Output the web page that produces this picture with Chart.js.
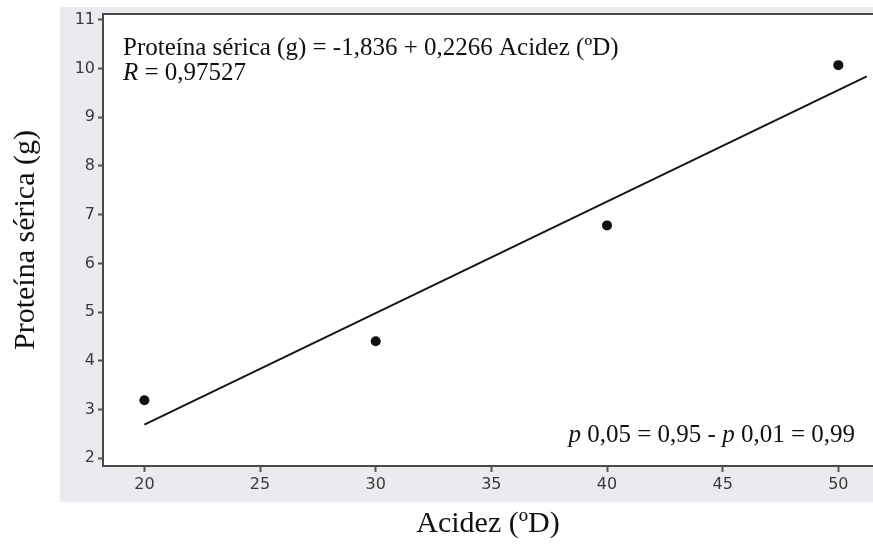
<!DOCTYPE html>
<html>
<head>
<meta charset="utf-8">
<script src="https://cdn.jsdelivr.net/npm/chart.js@4"></script>
<style>
  html, body { margin: 0; padding: 0; background: #ffffff; }
  canvas { display: block; }
</style>
</head>
<body>
<canvas id="c" width="873" height="545"></canvas>
<script>
// ---- data ----
const acidez   = [20, 30, 40, 50];
const proteina = [3.19, 4.40, 6.78, 10.07];
const fitX     = [20, 51.23];
const fitY     = [2.69, 9.84];
const xTicks   = [20, 25, 30, 35, 40, 45, 50];
const yTicks   = [2, 3, 4, 5, 6, 7, 8, 9, 10, 11];
const xTitle   = 'Acidez (ºD)';
const yTitle   = 'Proteína sérica (g)';
const eqLine   = 'Proteína sérica (g) = -1,836 + 0,2266 Acidez (ºD)';
const rLabel   = ['R', ' = 0,97527'];
const pLabel   = [['p', true], [' 0,05 = 0,95 - ', false], ['p', true], [' 0,01 = 0,99', false]];

const serif = '"Liberation Serif", "Times New Roman", serif';
const sans  = '"DejaVu Sans", Tahoma, sans-serif';

const panelPlugin = {
  id: 'panel',
  beforeDraw(chart) {
    const { ctx, chartArea: a } = chart;
    ctx.save();
    ctx.fillStyle = '#eaebee';
    ctx.fillRect(60, 7, chart.width - 60, 495);
    ctx.fillStyle = '#ffffff';
    ctx.fillRect(a.left, a.top, a.right - a.left, a.bottom - a.top);
    ctx.restore();
  },
  afterDraw(chart) {
    const { ctx, chartArea: a } = chart;
    ctx.save();
    // top frame line
    ctx.strokeStyle = '#4a4a4a';
    ctx.lineWidth = 2;
    ctx.beginPath();
    ctx.moveTo(a.left, a.top);
    ctx.lineTo(a.right, a.top);
    ctx.stroke();
    // annotation text
    ctx.fillStyle = '#111111';
    ctx.textBaseline = 'alphabetic';
    ctx.textAlign = 'left';
    ctx.font = '25px ' + serif;
    ctx.fillText(eqLine, 123, 55);
    let x = 123;
    ctx.font = 'italic 25px ' + serif;
    ctx.fillText(rLabel[0], x, 80);
    x += ctx.measureText(rLabel[0]).width;
    ctx.font = '25px ' + serif;
    ctx.fillText(rLabel[1], x, 80);
    // bottom-right p text, right aligned at 855
    let total = 0;
    pLabel.forEach(([t, it]) => {
      ctx.font = (it ? 'italic ' : '') + '25px ' + serif;
      total += ctx.measureText(t).width;
    });
    x = 855 - total;
    pLabel.forEach(([t, it]) => {
      ctx.font = (it ? 'italic ' : '') + '25px ' + serif;
      ctx.fillText(t, x, 442);
      x += ctx.measureText(t).width;
    });
    ctx.restore();
  }
};

new Chart(document.getElementById('c'), {
  type: 'scatter',
  data: {
    datasets: [
      {
        label: 'fit',
        data: fitX.map((v, i) => ({ x: v, y: fitY[i] })),
        showLine: true,
        borderColor: '#151515',
        borderWidth: 2,
        pointRadius: 0,
        fill: false
      },
      {
        label: 'data',
        data: acidez.map((v, i) => ({ x: v, y: proteina[i] })),
        showLine: false,
        pointRadius: 5,
        pointBackgroundColor: '#111111',
        pointBorderColor: '#111111',
        pointBorderWidth: 0
      }
    ]
  },
  options: {
    responsive: false,
    animation: false,
    layout: { autoPadding: false, padding: { top: 14, left: 0, right: 0, bottom: 0 } },
    plugins: {
      legend: { display: false },
      tooltip: { enabled: false }
    },
    scales: {
      x: {
        type: 'linear',
        min: 18.21,
        max: 51.5,
        afterBuildTicks(s) { s.ticks = xTicks.map(v => ({ value: v })); },
        afterFit(s) { s.height = 79; s.paddingRight = 0; },
        grid: { drawOnChartArea: false, drawTicks: true, tickLength: 6, tickColor: '#555555', tickWidth: 2 },
        border: { display: true, color: '#4a4a4a', width: 2 },
        ticks: { color: '#3a3a3a', font: { family: sans, size: 16 }, padding: 3, maxRotation: 0 },
        title: { display: true, text: xTitle, color: '#111111', font: { family: serif, size: 30 }, padding: { top: 0, bottom: 3 } }
      },
      y: {
        type: 'linear',
        min: 1.84,
        max: 11.12,
        afterBuildTicks(s) { s.ticks = yTicks.map(v => ({ value: v })); },
        afterFit(s) { s.width = 103; },
        grid: { drawOnChartArea: false, drawTicks: true, tickLength: 5, tickColor: '#555555', tickWidth: 2 },
        border: { display: true, color: '#4a4a4a', width: 2 },
        ticks: { color: '#3a3a3a', font: { family: sans, size: 16 }, padding: 3 },
        title: { display: true, text: yTitle, color: '#111111', font: { family: serif, size: 30 }, padding: { top: 8, bottom: 0 } }
      }
    }
  },
  plugins: [panelPlugin]
});
</script>
</body>
</html>
